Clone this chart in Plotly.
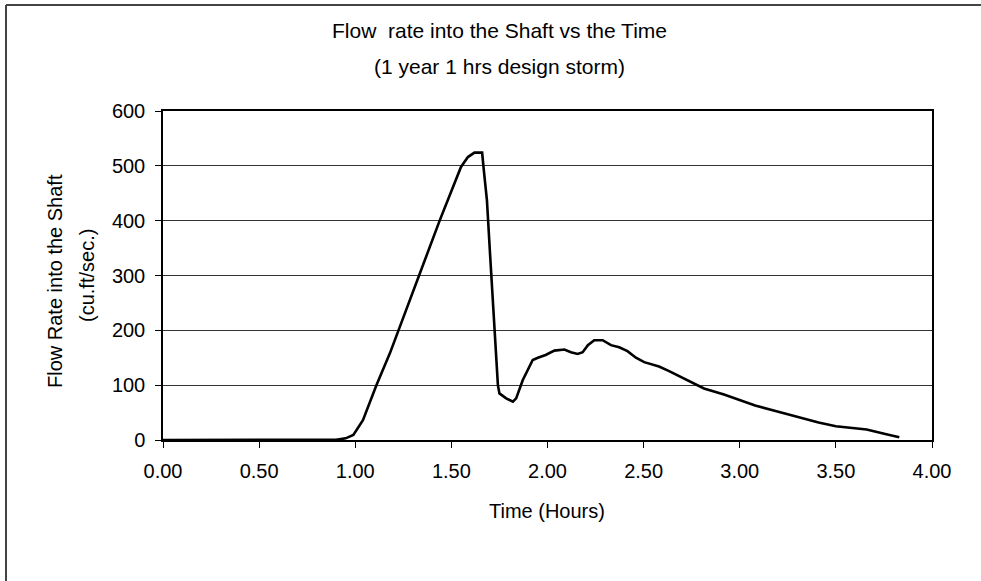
import plotly.graph_objects as go

# Data
time_hours = [0.0, 0.5, 0.9, 0.95, 0.99, 1.04, 1.11, 1.18, 1.23, 1.335, 1.44, 1.55,
              1.586, 1.62, 1.66, 1.667, 1.685, 1.70, 1.716, 1.73, 1.742, 1.75, 1.785,
              1.82, 1.837, 1.871, 1.923, 1.95, 1.99, 2.036, 2.088, 2.122, 2.157, 2.183,
              2.21, 2.243, 2.287, 2.33, 2.373, 2.416, 2.46, 2.503, 2.58, 2.63, 2.72,
              2.814, 2.918, 2.996, 3.08, 3.186, 3.307, 3.41, 3.5, 3.66, 3.757, 3.83]
flow_cfs = [0, 0, 0.5, 3, 9, 36, 100, 158, 205, 304, 401, 498,
            516, 524, 524, 498, 437, 346, 255, 164, 100, 85, 76,
            70, 76, 109, 146, 150, 155, 163, 165, 160, 157, 160,
            173, 182, 182, 173, 169, 162, 150, 142, 134, 126, 110,
            94, 83, 73, 63, 53, 41, 32, 25, 19, 11, 5]

x_ticks = [0, 0.5, 1, 1.5, 2, 2.5, 3, 3.5, 4]
x_tick_labels = ["0.00", "0.50", "1.00", "1.50", "2.00", "2.50", "3.00", "3.50", "4.00"]
y_ticks = [0, 100, 200, 300, 400, 500, 600]

title_lines = ["Flow  rate into the Shaft vs the Time", "(1 year 1 hrs design storm)"]
y_title_lines = ["Flow Rate into the Shaft", "(cu.ft/sec.)"]
x_title = "Time (Hours)"

W, H = 981, 581
ML, MR, MT, MB = 163, 49, 111, 141
PW = W - ML - MR
PH = H - MT - MB

def px(x):
    return (x - ML) / PW

def py(y):
    return (H - MB - y) / PH

FONT = "Liberation Sans, Arial, sans-serif"

fig = go.Figure()
fig.add_trace(go.Scatter(x=time_hours, y=flow_cfs, mode="lines",
                         line=dict(color="black", width=2.6), showlegend=False))

annotations = [
    dict(text=title_lines[0], x=px(499), y=py(31), font=dict(size=21)),
    dict(text=title_lines[1], x=px(499), y=py(66), font=dict(size=21)),
    dict(text=y_title_lines[0], x=px(55), y=py(281), textangle=-90, font=dict(size=20)),
    dict(text=y_title_lines[1], x=px(87), y=py(276), textangle=-90, font=dict(size=20)),
    dict(text=x_title, x=px(547), y=py(511), font=dict(size=20)),
]
for a in annotations:
    a.update(xref="paper", yref="paper", showarrow=False, xanchor="center", yanchor="middle")

fig.update_layout(
    width=W, height=H,
    margin=dict(l=ML, r=MR, t=MT, b=MB, pad=0),
    paper_bgcolor="white", plot_bgcolor="white",
    font=dict(family=FONT, size=20, color="black"),
    annotations=annotations,
    xaxis=dict(range=[0, 4], tickvals=x_ticks, ticktext=x_tick_labels,
               ticks="outside", ticklen=6, tickcolor="black", showgrid=False,
               showline=True, linecolor="black", linewidth=1.5, mirror=True,
               zeroline=False, tickfont=dict(size=20), ticklabelstandoff=6),
    yaxis=dict(range=[0, 600], tickvals=y_ticks,
               ticks="outside", ticklen=6, tickcolor="black",
               showgrid=True, gridcolor="#333333", gridwidth=1,
               showline=True, linecolor="black", linewidth=1.5, mirror=True,
               zeroline=False, tickfont=dict(size=20), ticklabelstandoff=6),
    shapes=[
        dict(type="line", xref="paper", yref="paper", x0=px(6), x1=px(W), y0=py(5), y1=py(5),
             line=dict(color="#444444", width=2)),
        dict(type="line", xref="paper", yref="paper", x0=px(6), x1=px(6), y0=py(5), y1=py(H),
             line=dict(color="#444444", width=2)),
    ],
)

fig.write_html("out.html")
